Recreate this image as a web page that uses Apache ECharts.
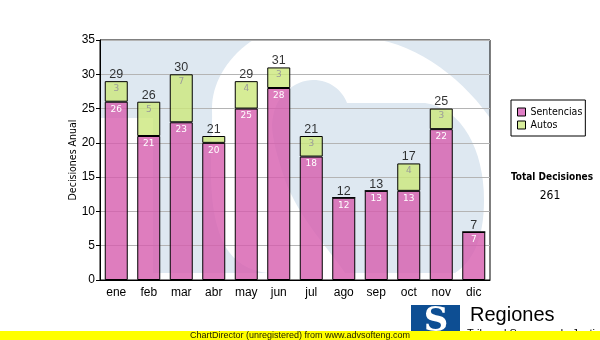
<!DOCTYPE html>
<html>
<head>
<meta charset="utf-8">
<script src="https://cdn.jsdelivr.net/npm/echarts@6/dist/echarts.min.js"></script>
<style>
  html, body { margin: 0; padding: 0; background: #ffffff; }
  #chart { width: 600px; height: 340px; }
</style>
</head>
<body>
<div id="chart"></div>
<script>
// Monthly decisions, split by type
const months = ['ene', 'feb', 'mar', 'abr', 'may', 'jun', 'jul', 'ago', 'sep', 'oct', 'nov', 'dic'];
const sentencias = [26, 21, 23, 20, 25, 28, 18, 12, 13, 13, 22, 7];
const autos = [3, 5, 7, 1, 4, 3, 3, 0, 0, 4, 3, 0];
const yMin = 0, yMax = 35, yStep = 5;

const totals = months.map((m, i) => sentencias[i] + autos[i]);
const grandTotal = totals.reduce((a, b) => a + b, 0);

const SANS = 'Liberation Sans, Arial, sans-serif';
const TAHOMA = 'DejaVu Sans Condensed, DejaVu Sans, sans-serif';

const chart = echarts.init(document.getElementById('chart'), null, { renderer: 'canvas' });

// Outline of the white watermark shape: start point, then line / cubic segments
const sOutline = [
  ['M', 347, 103], ['L', 425, 103],
  ['C', 462, 108, 484, 150, 484, 200],
  ['C', 484, 240, 472, 262, 455, 273],
  ['L', 495, 273], ['L', 495, 125],
  ['C', 465, 80, 420, 45, 370, 38],
  ['C', 320, 32, 270, 28, 250, 42],
  ['C', 225, 60, 212, 85, 212, 108],
  ['C', 213, 150, 205, 200, 222, 240],
  ['C', 232, 262, 250, 272, 270, 273],
  ['L', 345, 273],
  ['C', 330, 250, 300, 220, 285, 180],
  ['C', 275, 150, 270, 130, 273, 117],
  ['C', 276, 95, 295, 80, 313, 80],
  ['C', 330, 80, 342, 90, 347, 103]
];

// Flatten the outline into polygon points
function flatten(cmds) {
  const pts = [];
  let cx = 0, cy = 0;
  cmds.forEach(c => {
    if (c[0] === 'M' || c[0] === 'L') {
      cx = c[1]; cy = c[2]; pts.push([cx, cy]);
    } else {
      const [, x1, y1, x2, y2, x3, y3] = c;
      for (let k = 1; k <= 16; k++) {
        const t = k / 16, u = 1 - t;
        pts.push([
          u * u * u * cx + 3 * u * u * t * x1 + 3 * u * t * t * x2 + t * t * t * x3,
          u * u * u * cy + 3 * u * u * t * y1 + 3 * u * t * t * y2 + t * t * t * y3
        ]);
      }
      cx = x3; cy = y3;
    }
  });
  return pts;
}

const option = {
  animation: false,
  backgroundColor: '#ffffff',
  grid: {
    left: 100, top: 40, right: 110, bottom: 60,
    show: true, borderColor: '#000000', borderWidth: 1, backgroundColor: 'transparent'
  },
  legend: {
    orient: 'vertical',
    left: 511, top: 100,
    padding: [6, 3, 5, 6],
    itemGap: 1,
    itemWidth: 8, itemHeight: 8,
    icon: 'rect',
    borderColor: '#000000', borderWidth: 1,
    backgroundColor: '#ffffff',
    textStyle: { fontFamily: TAHOMA, fontSize: 10.5, color: '#000000', lineHeight: 12 },
    data: [
      { name: 'Sentencias', itemStyle: { color: '#e07fc6', borderColor: '#000', borderWidth: 1 } },
      { name: 'Autos', itemStyle: { color: '#d8ee9c', borderColor: '#000', borderWidth: 1 } }
    ]
  },
  xAxis: {
    type: 'category',
    data: months,
    axisLine: { lineStyle: { color: '#000000', width: 1 } },
    axisTick: { alignWithLabel: true, length: 4, lineStyle: { color: '#000000' } },
    axisLabel: { color: '#000000', fontFamily: SANS, fontSize: 12, margin: 7 },
    splitLine: { show: false }
  },
  yAxis: {
    type: 'value',
    min: yMin, max: yMax, interval: yStep,
    name: 'Decisiones Anual',
    nameLocation: 'middle',
    nameGap: 21,
    nameMoveOverlap: false,
    nameTextStyle: { fontFamily: TAHOMA, fontSize: 10.5, color: '#000000' },
    axisLine: { show: true, lineStyle: { color: '#000000', width: 1 } },
    axisTick: { show: true, length: 4, lineStyle: { color: '#000000' } },
    axisLabel: { color: '#000000', fontFamily: SANS, fontSize: 12, margin: 5 },
    splitLine: { show: true, lineStyle: { color: '#b4b4b4', width: 1 } }
  },
  series: [
    {
      name: 'Sentencias',
      type: 'bar',
      stack: 'dec',
      barWidth: 23,
      data: sentencias,
      itemStyle: { color: 'rgba(214, 92, 174, 0.8)', borderColor: '#000000', borderWidth: 1 },
      label: {
        show: true, position: 'insideTop', distance: 3,
        color: '#ffffff', fontFamily: 'DejaVu Sans, sans-serif', fontSize: 9
      }
    },
    {
      name: 'Autos',
      type: 'bar',
      stack: 'dec',
      barWidth: 23,
      data: autos,
      itemStyle: { color: 'rgba(204, 231, 124, 0.8)', borderColor: '#000000', borderWidth: 1 },
      label: {
        show: true, position: 'insideTop', distance: 3,
        color: '#9a9a9a', fontFamily: 'DejaVu Sans, sans-serif', fontSize: 9,
        formatter: p => (p.value > 1 ? String(p.value) : '')
      }
    },
    {
      name: 'Total',
      type: 'scatter',
      data: totals,
      symbolSize: 0.1,
      itemStyle: { color: 'transparent' },
      z: 5,
      label: {
        show: true, position: 'top', distance: 0,
        color: '#000000', fontFamily: SANS, fontSize: 12.5
      }
    }
  ],
  graphic: [
    { type: 'rect', z: -10, silent: true, shape: { x: 100, y: 40, width: 390, height: 240 }, style: { fill: '#dee8f1' } },
    { type: 'rect', z: -9, silent: true, shape: { x: 100, y: 118, width: 53, height: 162 }, style: { fill: '#ffffff' } },
    { type: 'rect', z: -9, silent: true, shape: { x: 100, y: 273, width: 390, height: 7 }, style: { fill: '#ffffff' } },
    { type: 'polygon', z: -9, silent: true, shape: { points: flatten(sOutline) }, style: { fill: '#ffffff' } },
    { type: 'rect', z: -8, silent: true, shape: { x: 0, y: 0, width: 600, height: 40 }, style: { fill: '#ffffff' } },
    { type: 'rect', z: -8, silent: true, shape: { x: 490, y: 0, width: 110, height: 300 }, style: { fill: '#ffffff' } },

    // Total summary
    { type: 'text', z: 20, style: { x: 511, y: 177, text: 'Total Decisiones', font: 'bold 10px ' + TAHOMA,
      fill: '#000000', verticalAlign: 'middle' } },
    { type: 'text', z: 20, style: { x: 550, y: 196, text: String(grandTotal), font: '12px ' + TAHOMA,
      fill: '#000000', align: 'center', verticalAlign: 'middle' } },

    // Logo
    { type: 'text', z: 40, style: { x: 467, y: 328, text: 'Tribunal Supremo de Justicia',
      font: '11px ' + SANS, fill: '#000000', verticalAlign: 'top' } },
    { type: 'rect', z: 41, shape: { x: 411, y: 305, width: 49, height: 26 }, style: { fill: '#0d4e93' } },
    { type: 'text', z: 42, style: { x: 436, y: 322, text: 'S', font: 'bold 34px DejaVu Serif, serif',
      fill: '#ffffff', align: 'center', verticalAlign: 'middle' } },
    { type: 'text', z: 42, style: { x: 470, y: 315, text: 'Regiones', font: '20px ' + SANS,
      fill: '#000000', verticalAlign: 'middle' } },

    // Footer band
    { type: 'rect', z: 50, shape: { x: 0, y: 331, width: 600, height: 9 }, style: { fill: '#ffff00' } },
    { type: 'text', z: 51, style: { x: 300, y: 336, text: 'ChartDirector (unregistered) from www.advsofteng.com',
      font: '9px ' + SANS, fill: '#222200', align: 'center', verticalAlign: 'middle' } }
  ]
};

chart.setOption(option);
</script>
</body>
</html>
